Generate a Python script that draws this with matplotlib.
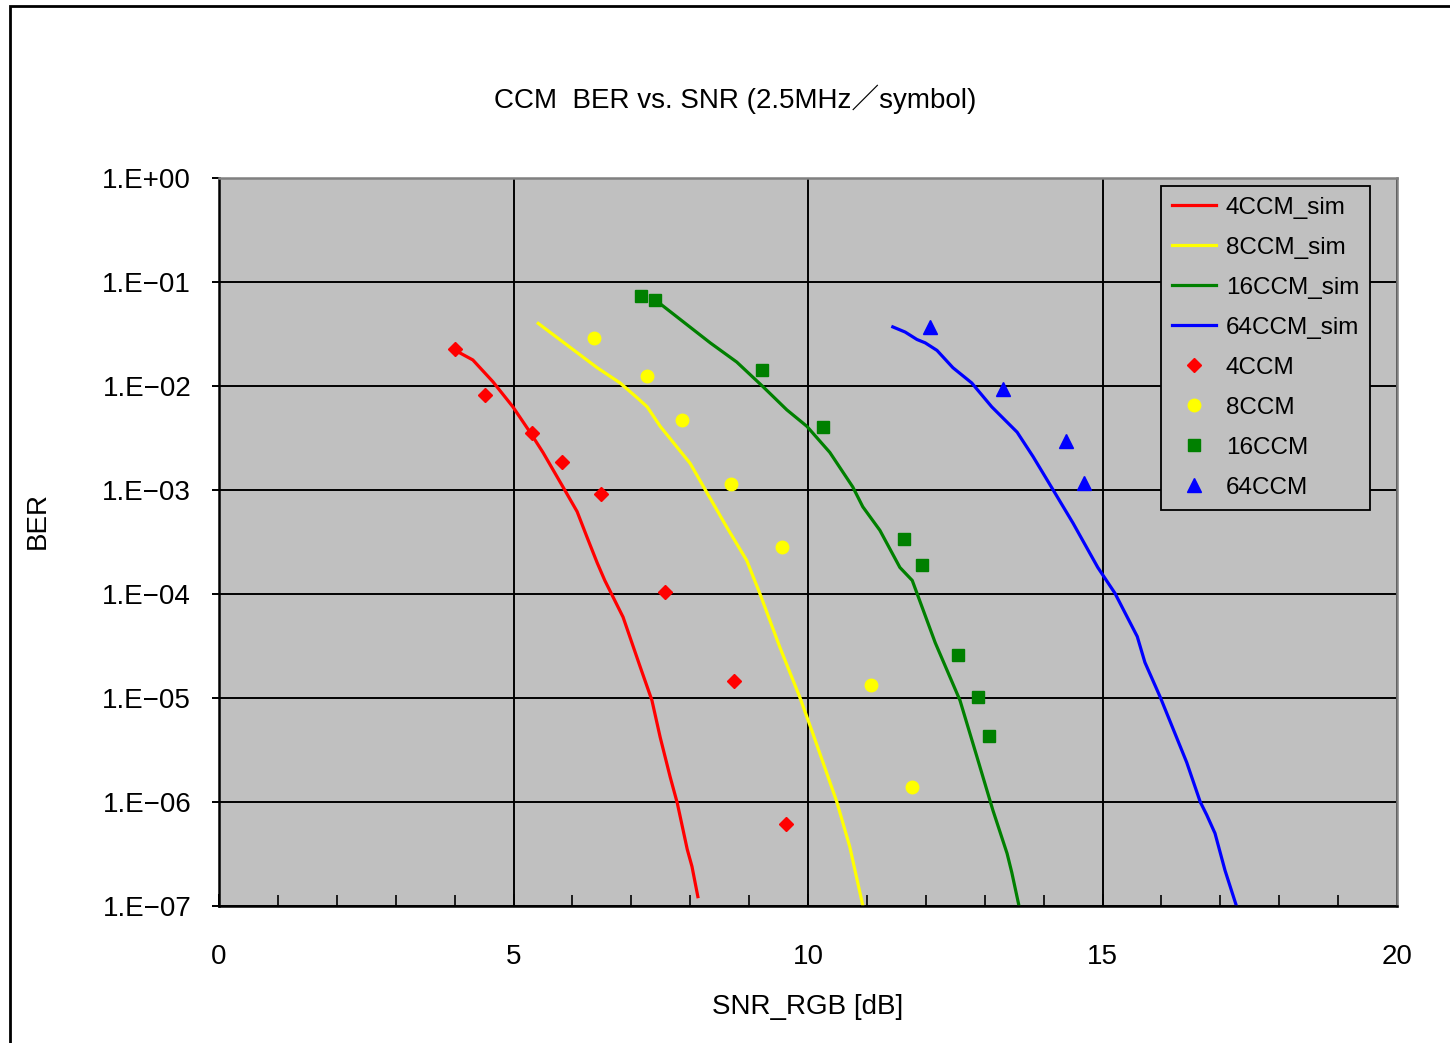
import numpy as np
import matplotlib
matplotlib.use('Agg')
from matplotlib import pyplot as plt
from matplotlib.patches import Rectangle
from matplotlib.ticker import FixedLocator, FuncFormatter, MultipleLocator

plt.rcParams['font.family'] = ['Liberation Sans', 'Noto Sans CJK JP', 'DejaVu Sans']

# simulation curves (SNR dB, BER)
snr_4sim = [4.01, 4.31, 4.65, 4.99, 5.28, 5.50, 5.84, 6.08, 6.25, 6.42, 6.55, 6.86,
            7.15, 7.35, 7.49, 7.66, 7.78, 7.95, 8.03, 8.13]
ber_4sim = [2.2e-2, 1.78e-2, 1.1e-2, 6.3e-3, 3.6e-3, 2.3e-3, 1.07e-3, 6.2e-4, 3.5e-4,
            2.0e-4, 1.35e-4, 6.0e-5, 2.0e-5, 9.5e-6, 4.2e-6, 1.74e-6, 9.8e-7, 3.5e-7,
            2.4e-7, 1.23e-7]

snr_8sim = [5.42, 6.42, 6.81, 7.10, 7.27, 7.49, 8.00, 8.29, 8.62, 8.96, 9.18, 9.52,
            9.86, 10.08, 10.49, 10.71, 10.95]
ber_8sim = [4.0e-2, 1.5e-2, 1.07e-2, 7.7e-3, 6.3e-3, 4.1e-3, 1.8e-3, 9.3e-4, 4.4e-4,
            2.1e-4, 1.02e-4, 3.1e-5, 1.02e-5, 4.6e-6, 1.0e-6, 3.7e-7, 9.0e-8]

snr_16sim = [7.44, 8.34, 8.79, 9.24, 9.64, 9.98, 10.37, 10.76, 10.93, 11.22, 11.56,
             11.77, 12.16, 12.58, 12.87, 13.14, 13.38, 13.46, 13.60]
ber_16sim = [6.5e-2, 2.6e-2, 1.7e-2, 9.8e-3, 5.9e-3, 4.1e-3, 2.3e-3, 1.07e-3, 6.9e-4,
             4.1e-4, 1.8e-4, 1.35e-4, 3.4e-5, 9.5e-6, 2.7e-6, 8.3e-7, 3.2e-7, 2.1e-7,
             9.0e-8]

snr_64sim = [11.44, 11.65, 11.85, 11.99, 12.19, 12.46, 12.78, 13.12, 13.55, 13.82,
             14.14, 14.50, 14.92, 15.21, 15.59, 15.72, 15.98, 16.43, 16.66, 16.77,
             16.91, 17.08, 17.30]
ber_64sim = [3.7e-2, 3.3e-2, 2.8e-2, 2.6e-2, 2.2e-2, 1.5e-2, 1.07e-2, 6.3e-3, 3.6e-3,
             2.1e-3, 1.05e-3, 4.8e-4, 1.8e-4, 1.02e-4, 3.9e-5, 2.2e-5, 1.02e-5,
             2.4e-6, 1.0e-6, 7.5e-7, 5.0e-7, 2.2e-7, 9.0e-8]

# measured points
snr_4 = [4.01, 4.52, 5.31, 5.82, 6.49, 7.57, 8.74, 9.63]
ber_4 = [2.27e-2, 8.2e-3, 3.5e-3, 1.86e-3, 9.1e-4, 1.05e-4, 1.45e-5, 6.2e-7]

snr_8 = [6.37, 7.27, 7.86, 8.69, 9.56, 11.07, 11.77]
ber_8 = [2.9e-2, 1.25e-2, 4.7e-3, 1.15e-3, 2.8e-4, 1.33e-5, 1.4e-6]

snr_16 = [7.16, 7.40, 9.22, 10.25, 11.63, 11.94, 12.55, 12.89, 13.07]
ber_16 = [7.3e-2, 6.7e-2, 1.42e-2, 4.0e-3, 3.4e-4, 1.9e-4, 2.6e-5, 1.02e-5, 4.3e-6]

snr_64 = [12.07, 13.31, 14.38, 14.69]
ber_64 = [3.7e-2, 9.3e-3, 2.96e-3, 1.17e-3]

fig = plt.figure(figsize=(14.5, 10.43), dpi=100)
ax = fig.add_axes([219 / 1450, 1 - 906 / 1043, (1397 - 219) / 1450, (906 - 178) / 1043])
ax.set_facecolor('#C0C0C0')

lw = 2.3
ax.plot(snr_4sim, ber_4sim, color='#FF0000', lw=lw, label='4CCM_sim')
ax.plot(snr_8sim, ber_8sim, color='#FFFF00', lw=lw, label='8CCM_sim')
ax.plot(snr_16sim, ber_16sim, color='#008000', lw=lw, label='16CCM_sim')
ax.plot(snr_64sim, ber_64sim, color='#0000FF', lw=lw, label='64CCM_sim')
ax.plot(snr_4, ber_4, 'D', color='#FF0000', ms=7, ls='none', label='4CCM')
ax.plot(snr_8, ber_8, 'o', color='#FFFF00', ms=9, ls='none', label='8CCM')
ax.plot(snr_16, ber_16, 's', color='#008000', ms=8.5, ls='none', label='16CCM')
ax.plot(snr_64, ber_64, '^', color='#0000FF', ms=10, ls='none', label='64CCM')

ax.set_yscale('log')
ax.set_xlim(0, 20)
ax.set_ylim(1e-7, 1)
ax.xaxis.set_major_locator(MultipleLocator(5))
ax.xaxis.set_minor_locator(MultipleLocator(1))
ax.yaxis.set_major_locator(FixedLocator([10.0 ** k for k in range(-7, 1)]))
ax.yaxis.set_minor_locator(FixedLocator([]))


def ber_fmt(v, pos):
    k = int(round(np.log10(v)))
    if k >= 0:
        return '1.E+%02d' % k
    return '1.E\u2212%02d' % (-k)


ax.yaxis.set_major_formatter(FuncFormatter(ber_fmt))
ax.grid(True, which='major', color='black', lw=1.4)
ax.tick_params(axis='x', which='major', direction='in', length=9, width=1.4,
               labelsize=20, pad=27)
ax.tick_params(axis='x', which='minor', direction='in', length=8, width=1.2)
ax.tick_params(axis='y', which='major', direction='out', length=5, width=1.4,
               labelsize=20, pad=15)

for side in ('left', 'bottom'):
    ax.spines[side].set_color('black')
    ax.spines[side].set_linewidth(1.8)
for side in ('top', 'right'):
    ax.spines[side].set_color('#808080')
    ax.spines[side].set_linewidth(1.8)

ax.set_xlabel('SNR_RGB [dB]', fontsize=20, labelpad=18)
ax.set_ylabel('BER', fontsize=20)
ax.yaxis.set_label_coords(-0.143, 0.53)

fig.text(0.507, 1 - 99 / 1043, 'CCM  BER vs. SNR (2.5MHz\uff0fsymbol)',
         ha='center', va='center', fontsize=20)

leg = ax.legend(loc='upper right', bbox_to_anchor=((1370 - 219) / 1178, 1 - 8 / 728),
                fontsize=17.5, frameon=True, fancybox=False, facecolor='#C0C0C0',
                edgecolor='black', framealpha=1, handlelength=1.8, labelspacing=0.74,
                borderpad=0.45, handletextpad=0.4, borderaxespad=0)
leg.get_frame().set_linewidth(1.3)

fig.add_artist(Rectangle((10 / 1450, -0.05), 1.2, 1.05 - 6 / 1043,
                         transform=fig.transFigure, fill=False, lw=2, color='black'))

fig.savefig('out.png', dpi=100, facecolor='white')
